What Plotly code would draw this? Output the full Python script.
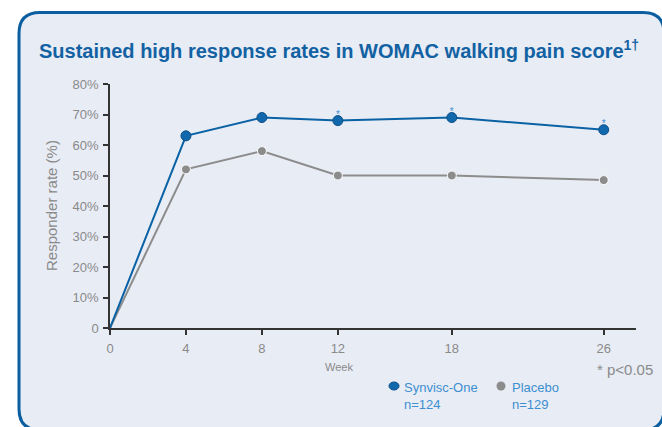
import plotly.graph_objects as go

# ---- data ----
weeks = [0, 4, 8, 12, 18, 26]
synvisc = [0, 63, 69, 68, 69, 65]
placebo = [0, 52, 58, 50, 50, 48.5]
sig_weeks = [12, 18, 26]
sig_vals = [68, 69, 65]
y_tickvals = [0, 10, 20, 30, 40, 50, 60, 70, 80]
y_ticktext = ["0", "10%", "20%", "30%", "40%", "50%", "60%", "70%", "80%"]

W, H = 662, 427
L, R, T, B = 110, 636, 84, 328  # plot area in pixels


def px(X):
    return (X - L) / (R - L)


def py(Y):
    return (B - Y) / (B - T)


BLUE = "#0A62A5"
MBLUE = "#1268AD"
GRAY = "#8C8C8C"
LIGHTBLUE = "#3D8FD0"
TXT = "#8A8A8A"

fig = go.Figure()
fig.add_trace(go.Scatter(x=weeks, y=placebo, mode="lines+markers",
                         line=dict(color=GRAY, width=2),
                         marker=dict(size=[0, 9, 9, 9, 9, 9], color=GRAY, opacity=1),
                         showlegend=False, cliponaxis=False))
fig.add_trace(go.Scatter(x=weeks, y=synvisc, mode="lines+markers",
                         line=dict(color=BLUE, width=2),
                         marker=dict(size=[0, 10, 10, 10, 10, 10], color=MBLUE, opacity=1,
                                     line=dict(color="#0A4F8A", width=1)),
                         showlegend=False, cliponaxis=False))
fig.add_trace(go.Scatter(x=sig_weeks, y=sig_vals, mode="text", text=["*"] * len(sig_weeks),
                         textposition="top center",
                         textfont=dict(size=10, color=LIGHTBLUE, family="Liberation Sans"),
                         showlegend=False, cliponaxis=False))

r = 21
X0, Y0, X1, Y1 = 19, 12.5, 664, 430
path = (f"M {px(X0)},{py(Y0 + r)} "
        f"Q {px(X0)},{py(Y0)} {px(X0 + r)},{py(Y0)} "
        f"L {px(X1 - r)},{py(Y0)} "
        f"Q {px(X1)},{py(Y0)} {px(X1)},{py(Y0 + r)} "
        f"L {px(X1)},{py(Y1 - r)} "
        f"Q {px(X1)},{py(Y1)} {px(X1 - r)},{py(Y1)} "
        f"L {px(X0 + r)},{py(Y1)} "
        f"Q {px(X0)},{py(Y1)} {px(X0)},{py(Y1 - r)} Z")

shapes = [
    dict(type="path", xref="paper", yref="paper", path=path,
         fillcolor="#E8ECF5", line=dict(color="#0B5FA0", width=3), layer="below"),
    dict(type="circle", xref="paper", yref="paper", xsizemode="pixel", ysizemode="pixel",
         xanchor=px(394), yanchor=py(386), x0=-5, x1=5, y0=-4, y1=4,
         fillcolor=MBLUE, line=dict(color="#0A4F8A", width=1)),
    dict(type="circle", xref="paper", yref="paper", xsizemode="pixel", ysizemode="pixel",
         xanchor=px(501), yanchor=py(386), x0=-4.5, x1=4.5, y0=-4.5, y1=4.5,
         fillcolor=GRAY, line=dict(width=0)),
]

ann = [
    dict(text="<b>Sustained high response rates in WOMAC walking pain score<sup>1†</sup></b>",
         x=px(37), y=py(49), xanchor="left", yanchor="middle", showarrow=False,
         xref="paper", yref="paper",
         font=dict(family="Liberation Sans", size=20, color="#1262A3")),
    dict(text="Responder rate (%)", textangle=-90, x=px(51), y=py(206),
         xanchor="center", yanchor="middle", showarrow=False, xref="paper", yref="paper",
         font=dict(family="Liberation Sans", size=15, color=TXT)),
    dict(text="Week", x=px(339), y=py(367), xanchor="center", yanchor="middle",
         showarrow=False, xref="paper", yref="paper",
         font=dict(family="Liberation Sans", size=11, color=TXT)),
    dict(text="* p<0.05", x=px(595), y=py(369), xanchor="left", yanchor="middle",
         showarrow=False, xref="paper", yref="paper",
         font=dict(family="Liberation Sans", size=15, color=TXT)),
    dict(text="Synvisc-One<br>n=124", x=px(402), y=py(378), xanchor="left", yanchor="top",
         align="left", showarrow=False, xref="paper", yref="paper",
         font=dict(family="Liberation Sans", size=13, color=LIGHTBLUE)),
    dict(text="Placebo<br>n=129", x=px(510), y=py(378), xanchor="left", yanchor="top",
         align="left", showarrow=False, xref="paper", yref="paper",
         font=dict(family="Liberation Sans", size=13, color=LIGHTBLUE)),
]

fig.update_layout(
    width=W, height=H,
    margin=dict(l=L, r=W - R, t=T, b=H - B, autoexpand=False),
    paper_bgcolor="white", plot_bgcolor="rgba(0,0,0,0)",
    shapes=shapes, annotations=ann, showlegend=False,
    font=dict(family="Liberation Sans", color=TXT),
)
fig.update_xaxes(range=[0, 27.7], tickvals=weeks, ticktext=[str(w) for w in weeks],
                 showgrid=False, zeroline=False, showline=True, linecolor="#333333",
                 linewidth=1.5, ticks="outside", ticklen=5, tickwidth=1.5, tickcolor="#333333",
                 ticklabelstandoff=3,
                 tickfont=dict(size=13, color=TXT, family="Liberation Sans"))
fig.update_yaxes(range=[0, 80], tickvals=y_tickvals, ticktext=y_ticktext,
                 showgrid=False, zeroline=False, showline=True, linecolor="#333333",
                 linewidth=1.5, ticks="outside", ticklen=5, tickwidth=1.5, tickcolor="#333333",
                 ticklabelstandoff=2,
                 tickfont=dict(size=13, color=TXT, family="Liberation Sans"))

fig.write_html("out.html", config={"displayModeBar": False},
               post_script="document.body.style.margin='0';")
